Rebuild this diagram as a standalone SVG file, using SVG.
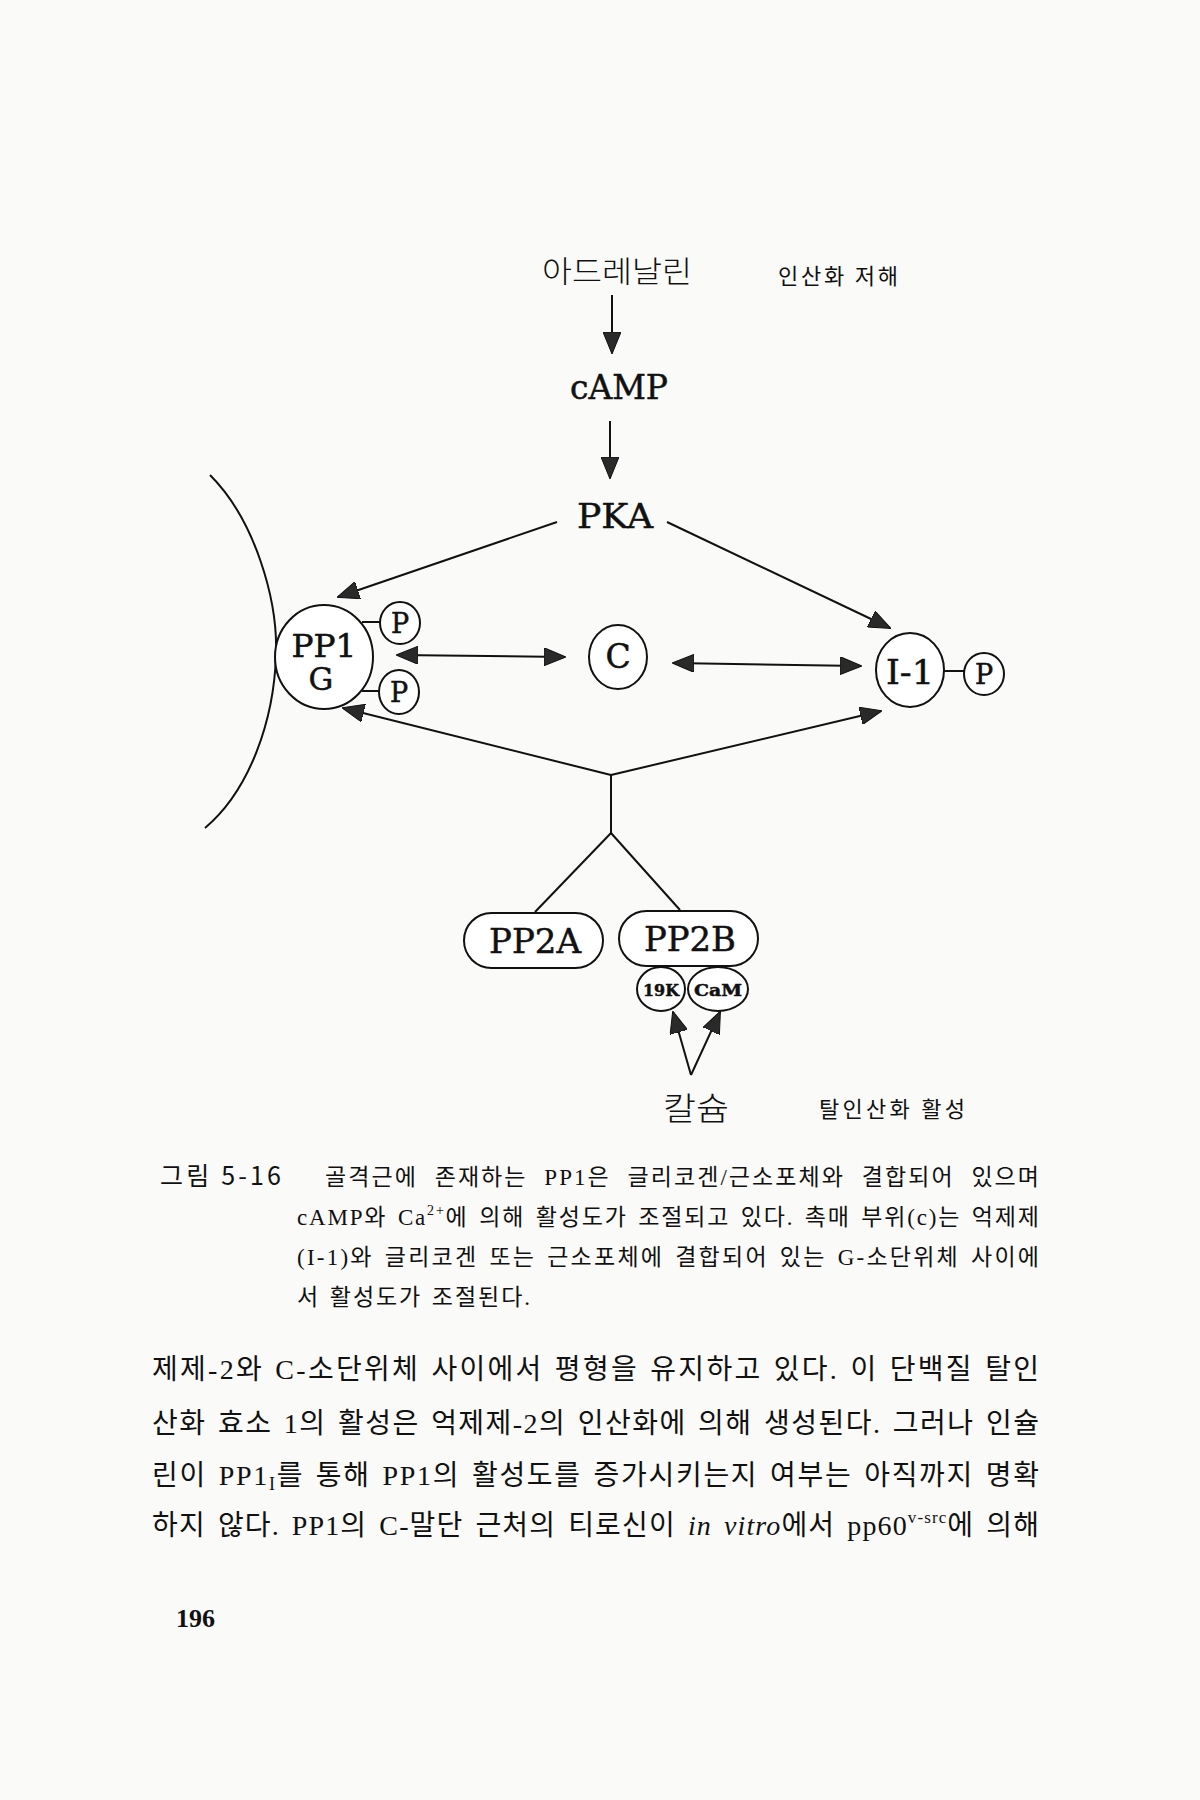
<svg xmlns="http://www.w3.org/2000/svg" width="1200" height="1800" viewBox="0 0 1200 1800">
<defs>
<style>
.bg{fill:#fafaf8}
.ln{stroke:#111;stroke-width:2;fill:none}
.arr{stroke:#111;stroke-width:2;fill:none;marker-end:url(#ah)}
.dbl{stroke:#111;stroke-width:2;fill:none;marker-start:url(#ah);marker-end:url(#ah)}
.shape{fill:#fff;stroke:#111;stroke-width:2}
.lab{font-family:"DejaVu Serif","Liberation Serif",serif;fill:#111;stroke:#111;stroke-width:0.5;text-anchor:middle}
.kor{font-family:"Noto Sans CJK KR",sans-serif;fill:#111}
.cap{font-family:"Liberation Serif","Noto Sans CJK KR",serif;font-size:23px;fill:#111}
.body{font-family:"Liberation Serif","Noto Sans CJK KR",serif;font-size:28px;fill:#111}
.pg{font-family:"Liberation Serif",serif;font-size:26px;font-weight:bold;fill:#111}
</style>
<marker id="ah" viewBox="0 0 22 18" refX="21" refY="9" markerWidth="22" markerHeight="18" markerUnits="userSpaceOnUse" orient="auto-start-reverse">
<path d="M0,0 L22,9 L0,18 z" fill="#2a2a2a" stroke="#111" stroke-width="1"/>
</marker>
</defs>
<rect class="bg" x="0" y="0" width="1200" height="1800"/>

<g id="membrane">
<path class="ln" d="M210,475 C255,520 278,600 276,655 C274,720 250,790 205,828"/>
</g>

<g id="connectors">
<line class="arr" x1="612" y1="295" x2="612" y2="353"/>
<line class="arr" x1="610" y1="421" x2="610" y2="478"/>
<line class="arr" x1="557" y1="522" x2="338" y2="597"/>
<line class="arr" x1="667" y1="522" x2="890" y2="628"/>
<line class="dbl" x1="397" y1="655" x2="565" y2="657"/>
<line class="dbl" x1="673" y1="663" x2="861" y2="666"/>
<line class="arr" x1="611" y1="775" x2="343" y2="708"/>
<line class="arr" x1="611" y1="775" x2="881" y2="711"/>
<polyline class="ln" points="611,775 611,833"/>
<line class="ln" x1="611" y1="833" x2="535" y2="912"/>
<line class="ln" x1="611" y1="833" x2="680" y2="910"/>
<line class="arr" x1="691" y1="1075" x2="673" y2="1012"/>
<line class="arr" x1="691" y1="1075" x2="720" y2="1012"/>
<line class="ln" x1="362" y1="622" x2="381" y2="622"/>
<line class="ln" x1="362" y1="691" x2="379" y2="691"/>
<line class="ln" x1="944" y1="671" x2="964" y2="671"/>
</g>

<g id="adrenaline">
<text class="kor" x="542" y="282" font-size="30" font-weight="300" textLength="150" lengthAdjust="spacingAndGlyphs">아드레날린</text>
</g>
<g id="label-phos-inhibit">
<text class="kor" x="778" y="284" font-size="22" textLength="120" lengthAdjust="spacing">인산화 저해</text>
</g>
<g id="camp">
<text class="lab" x="619" y="399" font-size="33" textLength="98" lengthAdjust="spacingAndGlyphs">cAMP</text>
</g>
<g id="pka">
<text class="lab" x="615" y="528" font-size="34" textLength="76" lengthAdjust="spacingAndGlyphs">PKA</text>
</g>
<g id="pp1g">
<ellipse class="shape" cx="324" cy="657" rx="49" ry="52"/>
<text class="lab" x="324" y="657" font-size="31" textLength="65" lengthAdjust="spacingAndGlyphs">PP1</text>
<text class="lab" x="321" y="690" font-size="31">G</text>
</g>
<g id="p-upper">
<ellipse class="shape" cx="400" cy="623" rx="20" ry="21"/>
<text class="lab" x="400" y="633" font-size="27">P</text>
</g>
<g id="p-lower">
<ellipse class="shape" cx="399" cy="692" rx="20" ry="22"/>
<text class="lab" x="399" y="702" font-size="27">P</text>
</g>
<g id="c">
<ellipse class="shape" cx="618" cy="657" rx="29" ry="32"/>
<text class="lab" x="618" y="668" font-size="33">C</text>
</g>
<g id="i1">
<ellipse class="shape" cx="910" cy="670" rx="34" ry="37"/>
<text class="lab" x="910" y="684" font-size="33" textLength="48" lengthAdjust="spacingAndGlyphs">I-1</text>
</g>
<g id="p-i1">
<ellipse class="shape" cx="984" cy="674" rx="20" ry="21"/>
<text class="lab" x="984" y="684" font-size="27">P</text>
</g>
<g id="pp2a">
<rect class="shape" x="464" y="913" width="139" height="55" rx="27.5" ry="27.5"/>
<text class="lab" x="535" y="953" font-size="33" textLength="92" lengthAdjust="spacingAndGlyphs">PP2A</text>
</g>
<g id="pp2b">
<rect class="shape" x="619" y="911" width="139" height="55" rx="27.5" ry="27.5"/>
<text class="lab" x="690" y="951" font-size="33" textLength="92" lengthAdjust="spacingAndGlyphs">PP2B</text>
</g>
<g id="k19">
<ellipse class="shape" cx="661" cy="989" rx="24" ry="22"/>
<text class="lab" x="661" y="996" font-size="17" font-weight="bold" textLength="36" lengthAdjust="spacingAndGlyphs">19K</text>
</g>
<g id="cam">
<ellipse class="shape" cx="718" cy="989" rx="30" ry="22"/>
<text class="lab" x="718" y="996" font-size="17" font-weight="bold" textLength="48" lengthAdjust="spacingAndGlyphs">CaM</text>
</g>
<g id="calcium">
<text class="kor" x="663" y="1120" font-size="32" font-weight="300" textLength="66" lengthAdjust="spacingAndGlyphs">칼슘</text>
</g>
<g id="label-dephos-active">
<text class="kor" x="819" y="1117" font-size="22" textLength="146" lengthAdjust="spacing">탈인산화 활성</text>
</g>

<g id="caption">
<text class="kor" x="160" y="1185" font-size="25" textLength="121" lengthAdjust="spacing">그림 5-16</text>
<text class="cap" x="325" y="1185" word-spacing="9" textLength="714" lengthAdjust="spacing">골격근에 존재하는 PP1은 글리코겐/근소포체와 결합되어 있으며</text>
<text class="cap" x="297" y="1225" word-spacing="3" textLength="742" lengthAdjust="spacing">cAMP와 Ca<tspan font-size="14" dy="-10">2+</tspan><tspan dy="10">에 의해 활성도가 조절되고 있다. 촉매 부위(c)는 억제제</tspan></text>
<text class="cap" x="297" y="1265" word-spacing="3" textLength="742" lengthAdjust="spacing">(I-1)와 글리코겐 또는 근소포체에 결합되어 있는 G-소단위체 사이에</text>
<text class="cap" x="297" y="1305" word-spacing="2" textLength="233" lengthAdjust="spacing">서 활성도가 조절된다.</text>
</g>

<g id="body">
<text class="body" x="152" y="1379" word-spacing="2" textLength="887" lengthAdjust="spacing">제제-2와 C-소단위체 사이에서 평형을 유지하고 있다. 이 단백질 탈인</text>
<text class="body" x="152" y="1433" word-spacing="3" textLength="887" lengthAdjust="spacing">산화 효소 1의 활성은 억제제-2의 인산화에 의해 생성된다. 그러나 인슐</text>
<text class="body" x="152" y="1485" word-spacing="3" textLength="887" lengthAdjust="spacing">린이 PP1<tspan font-size="18" dy="5">I</tspan><tspan dy="-5">를 통해 PP1의 활성도를 증가시키는지 여부는 아직까지 명확</tspan></text>
<text class="body" x="152" y="1535" word-spacing="4" textLength="887" lengthAdjust="spacing">하지 않다. PP1의 C-말단 근처의 티로신이 <tspan font-style="italic">in vitro</tspan>에서 pp60<tspan font-size="17" dy="-12">v-src</tspan><tspan dy="12">에 의해</tspan></text>
</g>
<g id="page-number">
<text class="pg" x="176" y="1627">196</text>
</g>
</svg>
